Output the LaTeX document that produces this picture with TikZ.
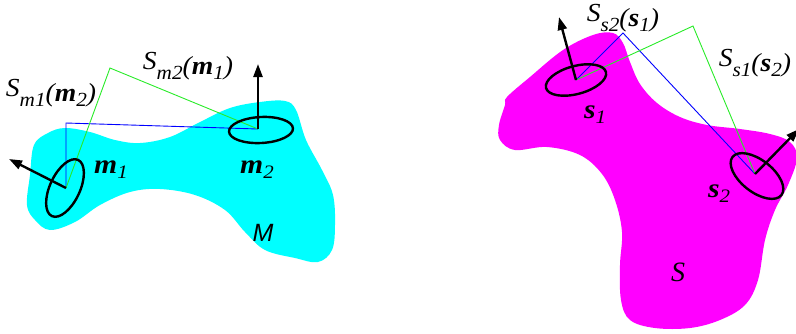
\documentclass[tikz,border=0pt]{standalone}
\usepackage{fontspec}
\usepackage{graphicx}
\setmainfont{Liberation Serif}
\newfontfamily\sansf{Liberation Sans}
\usetikzlibrary{arrows.meta}
\definecolor{cy}{RGB}{0,255,255}
\definecolor{mg}{RGB}{255,0,255}
\definecolor{gn}{RGB}{40,235,40}
\definecolor{bu}{RGB}{0,0,255}
\newcommand{\mainfs}{\fontsize{26}{28}\selectfont}
\newcommand{\subfs}{\fontsize{20}{22}\selectfont}
\newcommand{\mapl}[3]{\scalebox{1.06}[1]{\mainfs\itshape\raisebox{5pt}{S}\raisebox{-5pt}{\subfs #1}(\textbf{#2}\raisebox{-5pt}{\subfs #3})}}
\newcommand{\ptl}[2]{\scalebox{1.1}[1]{\fontsize{27}{29}\selectfont\itshape\textbf{#1}\raisebox{-5pt}{\fontsize{19}{21}\selectfont #2}}}
\begin{document}
\begin{tikzpicture}[x=1pt,y=-1pt,
  bl/.style={draw=bu,line width=0.9pt},
  gr/.style={draw=gn,line width=0.9pt},
  ell/.style={draw=black,line width=2.4pt},
  nrm/.style={draw=black,line width=2.4pt,-{Triangle[length=13pt,width=9pt]}},
  lab/.style={inner sep=0pt,text=black}]
\useasboundingbox (0,0) rectangle (796,333);
% surfaces
\fill[cy] plot[smooth cycle,tension=0.6] coordinates {
 (27,205) (30,175) (34,145) (48,133) (65,128) (90,132) (115,140) (140,143)
 (170,137) (200,122) (230,108) (260,102) (285,101) (296,110) (306,140)
 (322,170) (333,195) (335,225) (332,250) (318,262) (295,258) (265,250)
 (245,232) (225,210) (195,195) (160,189) (130,192) (100,205) (75,222)
 (50,230) (35,220)};
\fill[mg] plot[smooth cycle,tension=0.6] coordinates {
 (507,97) (530,77) (563,50) (593,35) (613,33) (623,43) (630,62) (640,84)
 (657,103) (680,117) (707,125) (740,129) (770,134) (790,142) (797,158)
 (788,185) (775,210) (765,240) (758,280) (745,305) (720,320) (690,328)
 (655,328) (630,320) (621,300) (620,265) (622,232) (615,200) (602,174)
 (580,155) (547,147) (515,150) (500,140) (499,125) (505,105)};
% points
\coordinate (m1) at (66,188);
\coordinate (m2) at (258,129);
\coordinate (bm) at (66,123);
\coordinate (gm) at (110,68);
\coordinate (s1) at (576,80);
\coordinate (s2) at (755,174);
\coordinate (bs) at (623,33);
\coordinate (gs) at (693,26);
\coordinate (t1) at (9,159);
\coordinate (t2) at (258,64);
\coordinate (t3) at (559,17);
\coordinate (t4) at (799,129);
% connectors
\draw[bl] (m1) -- (bm) -- (m2);
\draw[gr] (m1) -- (gm) -- (m2);
\draw[bl] (s1) -- (bs) -- (s2);
\draw[gr] (s1) -- (gs) -- (s2);
% ellipses
\draw[ell,rotate around={65:(65,188)}] (65,188) ellipse [x radius=31pt,y radius=15pt];
\draw[ell,rotate around={3:(261,130)}] (261,130) ellipse [x radius=32pt,y radius=13pt];
\draw[ell,rotate around={15:(576,80)}] (576,80) ellipse [x radius=31pt,y radius=14pt];
\draw[ell,rotate around={-38:(757,176)}] (757,176) ellipse [x radius=31pt,y radius=16pt];
% normals
\draw[nrm] (m1) -- (t1);
\draw[nrm] (m2) -- (t2);
\draw[nrm] (s1) -- (t3);
\draw[nrm] (s2) -- (t4);
% labels
\node[lab] (lm1m2) at (51,93) {\mapl{m1}{m}{2}};
\node[lab] (lm2m1) at (188,66) {\mapl{m2}{m}{1}};
\node[lab] (ls2s1) at (623,18) {\mapl{s2}{s}{1}};
\node[lab] (ls1s2) at (755,63) {\mapl{s1}{s}{2}};
\node[lab] (lm1) at (111,170) {\ptl{m}{1}};
\node[lab] (lm2) at (257,170) {\ptl{m}{2}};
\node[lab] (ls1) at (595,115) {\ptl{s}{1}};
\node[lab] (ls2) at (719,194) {\ptl{s}{2}};
\node[lab] (lM) at (263,233) {\sansf\itshape\fontsize{25}{27}\selectfont M};
\node[lab] (lS) at (678,272) {\itshape\fontsize{28}{30}\selectfont S};
\end{tikzpicture}
\end{document}
